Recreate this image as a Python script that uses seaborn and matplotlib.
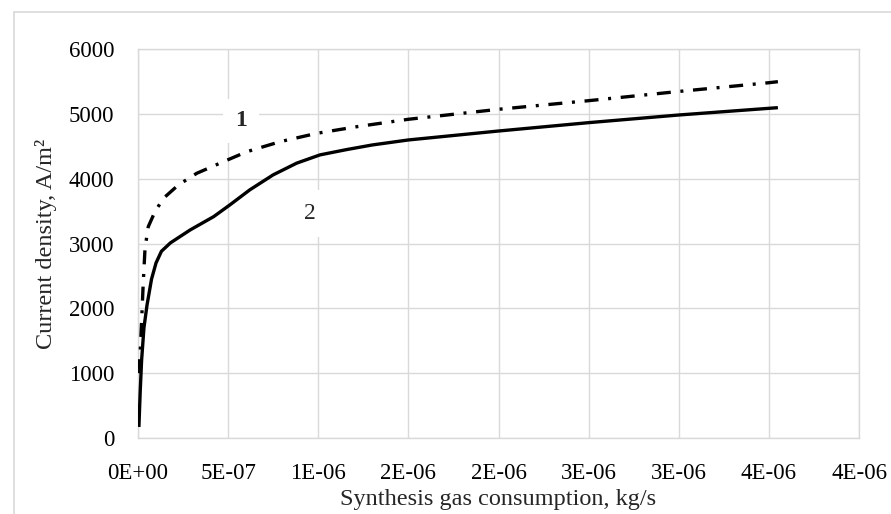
import matplotlib
matplotlib.use("Agg")
import matplotlib.pyplot as plt
from matplotlib.lines import Line2D
from matplotlib.ticker import FixedLocator
import pandas as pd
import seaborn as sns

# Curve 1 (dash-dot): synthesis gas consumption (kg/s) vs current density (A/m2)
flow_1 = [0.03e-7, 0.11e-7, 0.2e-7, 0.29e-7, 0.39e-7, 0.57e-7, 0.94e-7, 1.41e-7,
          2.24e-7, 3.26e-7, 4.74e-7, 6.04e-7, 7.89e-7, 9.93e-7, 12.15e-7,
          15.0e-7, 20.0e-7, 25.0e-7, 30.0e-7, 35.0e-7, 35.5e-7]
density_1 = [1000, 1250, 1800, 2390, 2926, 3260, 3490, 3697,
             3903, 4083, 4262, 4416, 4571, 4700, 4802,
             4916, 5070, 5203, 5345, 5480, 5496]

# Curve 2 (solid)
flow_2 = [0.05e-7, 0.12e-7, 0.2e-7, 0.33e-7, 0.5e-7, 0.75e-7, 1.0e-7, 1.3e-7,
          1.8e-7, 2.9e-7, 4.2e-7, 5.1e-7, 6.2e-7, 7.5e-7, 8.8e-7, 10.1e-7,
          11.6e-7, 13.0e-7, 15.0e-7, 20.0e-7, 25.0e-7, 30.0e-7, 35.0e-7, 35.5e-7]
density_2 = [170, 700, 1200, 1700, 2050, 2450, 2700, 2880,
             3010, 3210, 3415, 3596, 3827, 4059, 4239, 4367,
             4450, 4520, 4597, 4735, 4864, 4982, 5085, 5095]

x_ticks = [0, 5e-7, 1e-6, 1.5e-6, 2e-6, 2.5e-6, 3e-6, 3.5e-6, 4e-6]
x_tick_labels = ["0E+00", "5E-07", "1E-06", "2E-06", "2E-06",
                 "3E-06", "3E-06", "4E-06", "4E-06"]
y_ticks = [0, 1000, 2000, 3000, 4000, 5000, 6000]

sns.set_style("white")
plt.rcParams["font.family"] = ["Liberation Serif", "DejaVu Serif"]

W, H = 891, 514
fig = plt.figure(figsize=(W / 100, H / 100), dpi=100)
ax = fig.add_axes([138 / W, 1 - 438 / H, (859 - 138) / W, (438 - 49) / H])

df1 = pd.DataFrame({"flow": flow_1, "density": density_1})
df2 = pd.DataFrame({"flow": flow_2, "density": density_2})

sns.lineplot(data=df2, x="flow", y="density", ax=ax, sort=False, estimator=None,
             color="black", linewidth=2.4, solid_capstyle="butt",
             solid_joinstyle="round", zorder=4)
sns.lineplot(data=df1, x="flow", y="density", ax=ax, sort=False, estimator=None,
             color="black", linewidth=2.4, zorder=4,
             linestyle=(0, (4.2, 2.9, 0.9, 2.9)))

grid_c = "#d9d9d9"
ax.set_xlim(0, 4e-6)
ax.set_ylim(0, 6000)
ax.xaxis.set_major_locator(FixedLocator(x_ticks))
ax.set_xticklabels(x_tick_labels)
ax.set_yticks(y_ticks)
ax.grid(True, color=grid_c, linewidth=1.0)
ax.set_axisbelow(True)
for s in ax.spines.values():
    s.set_color(grid_c)
    s.set_linewidth(1.0)
ax.tick_params(axis="both", length=0, labelsize=16.5, colors="black")
ax.tick_params(axis="x", pad=18)
ax.tick_params(axis="y", pad=17)

ax.set_xlabel("Synthesis gas consumption, kg/s", fontsize=17.5)
ax.set_ylabel("Current density, A/m²", fontsize=17.5)
ax.xaxis.set_label_coords(0.5, -0.13)
ax.yaxis.set_label_coords(-0.112, 0.5)

# curve labels on white patches
ax.text(5.72e-7, 4890, "1", fontsize=17, fontweight="bold", ha="center",
        va="center", zorder=5,
        bbox=dict(boxstyle="square,pad=0.5", fc="white", ec="none"))
ax.text(9.56e-7, 3470, "2", fontsize=17, ha="center", va="center", zorder=5,
        bbox=dict(boxstyle="square,pad=0.55", fc="white", ec="none"))

# chart frame
fig.add_artist(Line2D([14 / W, 1], [1 - 12 / H, 1 - 12 / H],
                      transform=fig.transFigure, color=grid_c, linewidth=1.2))
fig.add_artist(Line2D([14 / W, 14 / W], [0, 1 - 12 / H],
                      transform=fig.transFigure, color=grid_c, linewidth=1.2))

fig.savefig("out.png", dpi=100, facecolor="white")
